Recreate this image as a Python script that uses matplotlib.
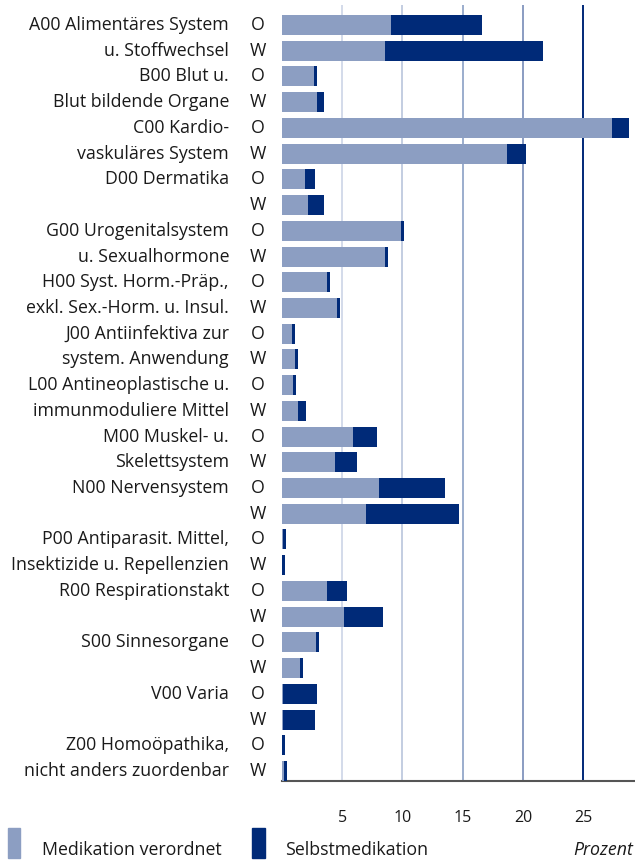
# --------------------------------Imports------------------------------------#
import numpy as np
import matplotlib
matplotlib.use("Agg")
from matplotlib import pyplot as plt
from matplotlib.patches import Rectangle
from matplotlib.transforms import blended_transform_factory
# ----------------------------------------------------------------------------#

# ATC-Gruppen, je zwei Zeilen (O / W); leere Zeile = kein Text
label_o = ["A00 Alimentäres System", "B00 Blut u.", "C00 Kardio-", "D00 Dermatika",
           "G00 Urogenitalsystem", "H00 Syst. Horm.-Präp.,", "J00 Antiinfektiva zur",
           "L00 Antineoplastische u.", "M00 Muskel- u.", "N00 Nervensystem",
           "P00 Antiparasit. Mittel,", "R00 Respirationstakt", "S00 Sinnesorgane",
           "V00 Varia", "Z00 Homoöpathika,"]
label_w = ["u. Stoffwechsel", "Blut bildende Organe", "vaskuläres System", "",
           "u. Sexualhormone", "exkl. Sex.-Horm. u. Insul.", "system. Anwendung",
           "immunmoduliere Mittel", "Skelettsystem", "",
           "Insektizide u. Repellenzien", "", "", "", "nicht anders zuordenbar"]

# Prozent, Medikation verordnet / Selbstmedikation, O und W
verordnet_o = [9.05, 2.65, 27.4, 1.9, 9.9, 3.75, 0.85, 0.9, 5.9, 8.05, 0.05, 3.75, 2.8, 0.1, 0.0]
selbst_o = [7.55, 0.25, 1.4, 0.85, 0.2, 0.25, 0.25, 0.25, 2.0, 5.45, 0.3, 1.65, 0.25, 2.8, 0.25]
verordnet_w = [8.55, 2.9, 18.65, 2.15, 8.55, 4.55, 1.1, 1.35, 4.4, 6.95, 0.0, 5.15, 1.5, 0.1, 0.15]
selbst_w = [13.1, 0.6, 1.6, 1.3, 0.25, 0.25, 0.25, 0.65, 1.8, 7.75, 0.25, 3.25, 0.25, 2.65, 0.25]

ticks = [5, 10, 15, 20, 25]
grid_colors = ["#d3dbea", "#c3cde1", "#9badcd", "#8a9cc2", "#002878"]

c_light = "#8c9ec2"
c_dark = "#002a78"
c_text = "#1a1a1a"

plt.rcParams['font.family'] = ['Open Sans', 'DejaVu Sans']

#------------------------------Figure-----------------------------------------#
fig = plt.figure(figsize=(6.35, 8.61), dpi=100)
ax = fig.add_axes([282 / 635, 1 - 781 / 861, 353 / 635, 776 / 861])

n = len(label_o)
y_o = np.arange(n) * 2
y_w = y_o + 1
h = 0.778

ax.barh(y_o, verordnet_o, height=h, color=c_light, zorder=3)
ax.barh(y_o, selbst_o, left=verordnet_o, height=h, color=c_dark, zorder=3)
ax.barh(y_w, verordnet_w, height=h, color=c_light, zorder=3)
ax.barh(y_w, selbst_w, left=verordnet_w, height=h, color=c_dark, zorder=3)

for t, c in zip(ticks, grid_colors):
    ax.axvline(t, color=c, lw=1.4, zorder=1)

ax.set_xlim(0, 29.3)
ax.set_ylim(2 * n - 1 + 0.389, -0.778)

for s in ["top", "right", "left"]:
    ax.spines[s].set_visible(False)
ax.spines["bottom"].set_color("#555555")
ax.spines["bottom"].set_linewidth(1.5)
ax.set_yticks([])
ax.set_xticks(ticks)
ax.set_xticklabels([str(t) for t in ticks], fontsize=11.5, color=c_text)
ax.tick_params(axis="x", length=0, pad=21)

# Beschriftung links
tr = blended_transform_factory(fig.transFigure, ax.transData)
fs = 12.8
for i in range(n):
    ax.text(229 / 635, y_o[i], label_o[i], transform=tr, ha="right", va="center",
            fontsize=fs, color=c_text)
    ax.text(229 / 635, y_w[i], label_w[i], transform=tr, ha="right", va="center",
            fontsize=fs, color=c_text)
    ax.text(258 / 635, y_o[i], "O", transform=tr, ha="center", va="center",
            fontsize=fs, color=c_text)
    ax.text(258 / 635, y_w[i], "W", transform=tr, ha="center", va="center",
            fontsize=fs, color=c_text)

#------------------------------Legende----------------------------------------#
fig.add_artist(Rectangle((8 / 635, 1 - 858 / 861), 12 / 635, 30 / 861,
                         color=c_light, transform=fig.transFigure))
fig.add_artist(Rectangle((252 / 635, 1 - 858 / 861), 13 / 635, 30 / 861,
                         color=c_dark, transform=fig.transFigure))
fig.text(42 / 635, 1 - 850 / 861, "Medikation verordnet", ha="left", va="center",
         fontsize=fs, color=c_text)
fig.text(285 / 635, 1 - 850 / 861, "Selbstmedikation", ha="left", va="center",
         fontsize=fs, color=c_text)
fig.text(633 / 635, 1 - 850 / 861, "Prozent", ha="right", va="center",
         fontsize=fs, style="italic", color=c_text)

fig.savefig("out.png", dpi=100)
